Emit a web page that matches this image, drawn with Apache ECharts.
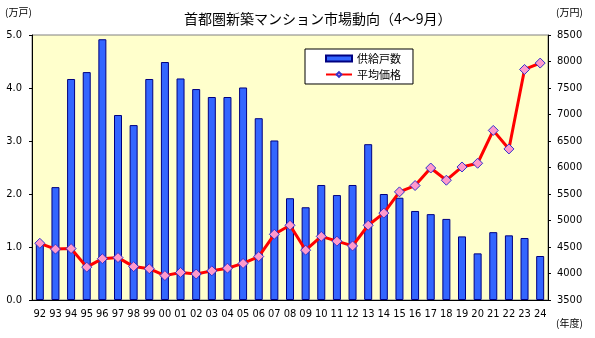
<!DOCTYPE html>
<html><head><meta charset="utf-8">
<script src="https://cdn.jsdelivr.net/npm/echarts@6/dist/echarts.min.js"></script>
<style>html,body{margin:0;padding:0;background:#fff}#c{width:595px;height:338px}</style>
</head><body><div id="c"></div>
<script>
const categories = ['92','93','94','95','96','97','98','99','00','01','02','03','04','05','06','07','08','09','10','11','12','13','14','15','16','17','18','19','20','21','22','23','24'];
const supply = [1.08,2.13,4.17,4.30,4.92,3.49,3.30,4.17,4.49,4.18,3.98,3.83,3.83,4.01,3.43,3.01,1.92,1.75,2.17,1.98,2.17,2.94,2.00,1.93,1.68,1.62,1.53,1.20,0.88,1.28,1.22,1.17,0.83];
const price = [4570,4460,4470,4120,4280,4300,4130,4090,3960,4020,3990,4050,4100,4190,4320,4740,4910,4440,4700,4610,4520,4910,5140,5540,5660,5990,5760,6010,6080,6700,6350,7850,7970];
const seriesNames = ['供給戸数','平均価格'];
const titleText = '首都圏新築マンション市場動向（4～9月）';

const font = '"Liberation Sans Narrow","DejaVu Sans Condensed",sans-serif';
const jp = '"Noto Sans CJK JP",sans-serif';
const chart = echarts.init(document.getElementById('c'), null, {renderer:'canvas'});
chart.setOption({
  animation:false,
  title:{text:titleText,left:179,top:7,textStyle:{fontFamily:jp,fontSize:14,fontWeight:'normal',color:'#000'}},
  legend:{
    orient:'vertical',left:305,top:49,
    backgroundColor:'#fff',borderColor:'#000',borderWidth:1,padding:[4,12,4,20],
    itemWidth:26,itemHeight:6,itemGap:5,
    textStyle:{fontFamily:jp,fontSize:11,color:'#000'},
    data:[{name:seriesNames[0],icon:'rect'},{name:seriesNames[1]}]
  },
  grid:{left:32,right:47,top:35,bottom:38,show:true,backgroundColor:'#FFFFCC',borderColor:'#808080',borderWidth:1},
  xAxis:{type:'category',data:categories,
    axisLine:{lineStyle:{color:'#000',width:1}},
    axisTick:{inside:true,length:3,lineStyle:{color:'#000'}},
    axisLabel:{interval:0,margin:9,fontFamily:font,fontSize:11,color:'#000'}
  },
  yAxis:[
    {type:'value',min:0,max:5,interval:1,
     axisLine:{show:true,lineStyle:{color:'#000'}},
     axisTick:{show:true,length:3,lineStyle:{color:'#000'}},
     splitLine:{show:false},
     axisLabel:{margin:10,fontFamily:font,fontSize:11,color:'#000',formatter:v=>v.toFixed(1)}},
    {type:'value',min:3500,max:8500,interval:500,
     axisLine:{show:true,lineStyle:{color:'#000'}},
     axisTick:{show:true,length:3,lineStyle:{color:'#000'}},
     splitLine:{show:false},
     axisLabel:{margin:9,fontFamily:font,fontSize:11,color:'#000',formatter:v=>String(v)}}
  ],
  graphic:[
    {type:'text',left:5,top:7,style:{text:'(万戸)',font:'10px '+jp,fill:'#000'}},
    {type:'text',left:556,top:7,style:{text:'(万円)',font:'10px '+jp,fill:'#000'}},
    {type:'text',left:556,top:318,style:{text:'(年度)',font:'10px '+jp,fill:'#000'}}
  ],
  series:[
    {name:seriesNames[0],type:'bar',yAxisIndex:0,data:supply,barWidth:8,
     itemStyle:{color:'#3366FF',borderColor:'#000080',borderWidth:1}},
    {name:seriesNames[1],type:'line',yAxisIndex:1,data:price,
     symbol:'diamond',symbolSize:10,
     lineStyle:{color:'#FF0000',width:3},
     itemStyle:{color:'#FF99CC',borderColor:'#3333CC',borderWidth:1}}
  ]
});
</script></body></html>
